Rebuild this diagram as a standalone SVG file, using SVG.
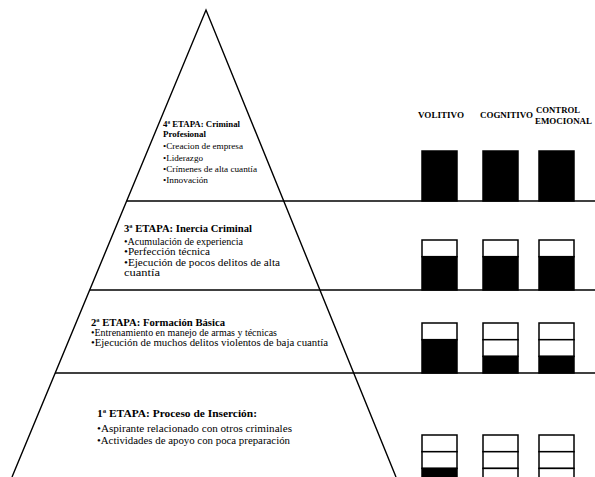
<svg xmlns="http://www.w3.org/2000/svg" width="595" height="477" viewBox="0 0 595 477" font-family="Liberation Serif">
<style>
.h{font-weight:bold}
.b{font-size:10.5px}
.s{font-size:8.8px}
.col{font-weight:bold;font-size:8.5px}
.ln{stroke:#000;stroke-width:1.4;fill:none}
.blk{fill:#000;stroke:#000;stroke-width:1.5}
.wht{fill:#fff;stroke:#000;stroke-width:1.5}
</style>
<rect width="595" height="477" fill="#fff"/>
<g id="connectors">
<polyline class="ln" points="12,477 206,10 396,477"/>
<line class="ln" x1="127" y1="201" x2="595" y2="201"/>
<line class="ln" x1="90" y1="290" x2="595" y2="290"/>
<line class="ln" x1="55" y1="373" x2="595" y2="373"/>
</g>
<g id="headers" font-family="Liberation Serif">
<text class="col" x="418" y="118" textLength="46" lengthAdjust="spacingAndGlyphs">VOLITIVO</text>
<text class="col" x="480" y="118" textLength="53" lengthAdjust="spacingAndGlyphs">COGNITIVO</text>
<text class="col" x="536" y="113" textLength="44" lengthAdjust="spacingAndGlyphs">CONTROL</text>
<text class="col" x="535" y="124" textLength="57" lengthAdjust="spacingAndGlyphs">EMOCIONAL</text>
</g>
<g id="stage4" font-family="Liberation Serif">
<text class="h" x="163" y="127" font-size="9" textLength="77" lengthAdjust="spacingAndGlyphs">4ª ETAPA: Criminal</text>
<text class="h" x="163" y="137" font-size="9" textLength="43" lengthAdjust="spacingAndGlyphs">Profesional</text>
<text class="s" x="163" y="149" textLength="80" lengthAdjust="spacingAndGlyphs">•Creacion de empresa</text>
<text class="s" x="163" y="161" textLength="40" lengthAdjust="spacingAndGlyphs">•Liderazgo</text>
<text class="s" x="163" y="172" textLength="94" lengthAdjust="spacingAndGlyphs">•Crímenes de alta cuantía</text>
<text class="s" x="163" y="183" textLength="45" lengthAdjust="spacingAndGlyphs">•Innovación</text>
</g>
<g id="stage3" font-family="Liberation Serif">
<text class="h" x="124" y="232" font-size="10.5" textLength="128" lengthAdjust="spacingAndGlyphs">3ª ETAPA: Inercia Criminal</text>
<text class="b" x="124" y="245" textLength="119" lengthAdjust="spacingAndGlyphs">•Acumulación de experiencia</text>
<text class="b" x="124" y="255" textLength="86" lengthAdjust="spacingAndGlyphs">•Perfección técnica</text>
<text class="b" x="124" y="265.5" textLength="156" lengthAdjust="spacingAndGlyphs">•Ejecución de pocos delitos de alta</text>
<text class="b" x="124" y="276" textLength="36" lengthAdjust="spacingAndGlyphs">cuantía</text>
</g>
<g id="stage2" font-family="Liberation Serif">
<text class="h" x="91" y="326" font-size="10.5" textLength="134" lengthAdjust="spacingAndGlyphs">2ª ETAPA: Formación Básica</text>
<text class="b" x="91" y="336" font-size="10" textLength="186" lengthAdjust="spacingAndGlyphs">•Entrenamiento en manejo de armas y técnicas</text>
<text class="b" x="91" y="346" textLength="237" lengthAdjust="spacingAndGlyphs">•Ejecución de muchos delitos violentos de baja cuantía</text>
</g>
<g id="stage1" font-family="Liberation Serif">
<text class="h" x="97" y="417" font-size="10.5" textLength="160" lengthAdjust="spacingAndGlyphs">1ª ETAPA: Proceso de Inserción:</text>
<text class="b" x="97" y="432" textLength="195" lengthAdjust="spacingAndGlyphs">•Aspirante relacionado con otros criminales</text>
<text class="b" x="97" y="444" textLength="193" lengthAdjust="spacingAndGlyphs">•Actividades de apoyo con poca preparación</text>
</g>
<g id="bars4">
<rect class="blk" x="422" y="151" width="35" height="50"/>
<rect class="blk" x="483" y="151" width="35" height="50"/>
<rect class="blk" x="539" y="151" width="35" height="50"/>
</g>
<g id="bars3">
<rect class="wht" x="422" y="240" width="35" height="16.7"/>
<rect class="blk" x="422" y="256.7" width="35" height="33.3"/>
<rect class="wht" x="483" y="240" width="35" height="16.7"/>
<rect class="blk" x="483" y="256.7" width="35" height="33.3"/>
<rect class="wht" x="539" y="240" width="35" height="16.7"/>
<rect class="blk" x="539" y="256.7" width="35" height="33.3"/>
</g>
<g id="bars2">
<rect class="wht" x="422" y="323" width="35" height="16.7"/>
<rect class="blk" x="422" y="339.7" width="35" height="33.3"/>
<rect class="wht" x="483" y="323" width="35" height="16.7"/>
<rect class="wht" x="483" y="339.7" width="35" height="16.7"/>
<rect class="blk" x="483" y="356.4" width="35" height="16.6"/>
<rect class="wht" x="539" y="323" width="35" height="16.7"/>
<rect class="wht" x="539" y="339.7" width="35" height="16.7"/>
<rect class="blk" x="539" y="356.4" width="35" height="16.6"/>
</g>
<g id="bars1">
<rect class="wht" x="422" y="435" width="35" height="16.7"/>
<rect class="wht" x="422" y="451.7" width="35" height="16.7"/>
<rect class="blk" x="422" y="468.4" width="35" height="16.6"/>
<rect class="wht" x="483" y="435" width="35" height="16.7"/>
<rect class="wht" x="483" y="451.7" width="35" height="16.7"/>
<rect class="wht" x="483" y="468.4" width="35" height="16.6"/>
<rect class="wht" x="539" y="435" width="35" height="16.7"/>
<rect class="wht" x="539" y="451.7" width="35" height="16.7"/>
<rect class="wht" x="539" y="468.4" width="35" height="16.6"/>
</g>
</svg>
